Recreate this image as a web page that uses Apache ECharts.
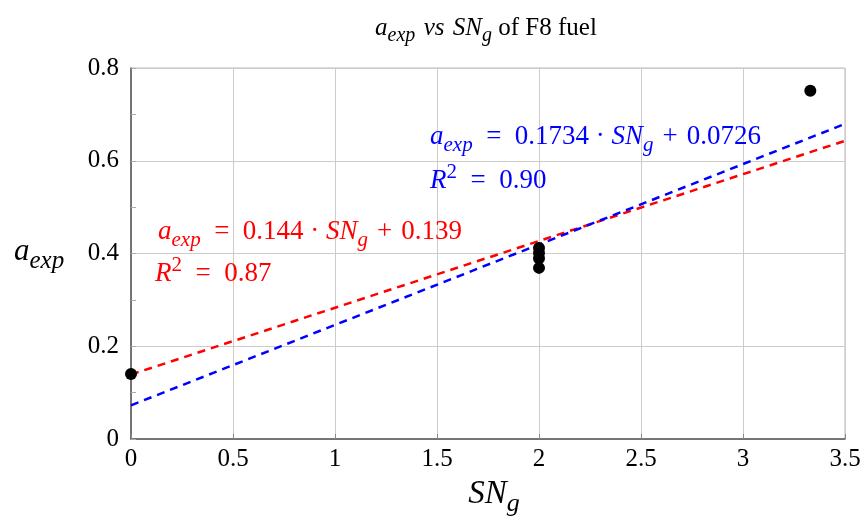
<!DOCTYPE html>
<html>
<head>
<meta charset="utf-8">
<script src="https://cdn.jsdelivr.net/npm/echarts@6/dist/echarts.min.js"></script>
<style>html,body{margin:0;padding:0;background:#fff;}#c{width:864px;height:521px;}</style>
</head>
<body>
<div id="c"></div>
<script>
const sng = [0, 2, 2, 2, 2, 3.33];
const aexp = [0.14, 0.412, 0.401, 0.390, 0.369, 0.751];
const fitRange = [0, 3.5];
const redFit = { slope: 0.144, intercept: 0.139 };
const blueFit = { slope: 0.1734, intercept: 0.0726 };
const xTicks = { min: 0, max: 3.5, interval: 0.5 };
const yTicks = { min: 0, max: 0.8, interval: 0.2 };
const yMinorInterval = 0.1;

const chart = echarts.init(document.getElementById('c'));
const F = 'Liberation Serif';
const SP = '\u2002';
const SP2 = '\u2004';
function fitLine(f) { return fitRange.map(x => [x, f.slope * x + f.intercept]); }
function richSet(color, size, subRatio) {
  const lh = Math.round(size * 1.4);
  const ss = Math.round(size * (subRatio || 0.78));
  return {
    i: { fontFamily: F, fontStyle: 'italic', fontSize: size, fill: color, lineHeight: lh },
    n: { fontFamily: F, fontSize: size, fill: color, lineHeight: lh },
    s: { fontFamily: F, fontStyle: 'italic', fontSize: ss, fill: color, lineHeight: Math.round(lh * 0.5), verticalAlign: 'bottom' },
    p: { fontFamily: F, fontSize: ss, fill: color, lineHeight: Math.round(lh * 0.5), verticalAlign: 'top' }
  };
}
function txt(x, y, text, color, size, align, subRatio) {
  return { type: 'text', x: x, y: y, z: 100,
    style: { text: text, fill: color, rich: richSet(color, size, subRatio), align: align || 'left', verticalAlign: 'middle' } };
}
const option = {
  animation: false,
  grid: { left: 131, right: 19, top: 68, bottom: 82, show: true, borderColor: '#bbb', borderWidth: 1 },
  xAxis: {
    type: 'value', min: xTicks.min, max: xTicks.max, interval: xTicks.interval,
    axisLine: { show: true, onZero: false, lineStyle: { color: '#555', width: 1.5 } },
    axisTick: { show: true, inside: true, length: 5, lineStyle: { color: '#888' } },
    splitLine: { show: true, lineStyle: { color: '#ccc', width: 1 } },
    axisLabel: { fontFamily: F, fontSize: 25, color: '#000', margin: 8 }
  },
  yAxis: [{
    type: 'value', min: yTicks.min, max: yTicks.max, interval: yTicks.interval,
    axisLine: { show: true, onZero: false, lineStyle: { color: '#555', width: 1.5 } },
    axisTick: { show: true, inside: true, length: 5, lineStyle: { color: '#888' } },
    splitLine: { show: true, lineStyle: { color: '#ccc', width: 1 } },
    axisLabel: { fontFamily: F, fontSize: 25, color: '#000', margin: 12 }
  }, {
    type: 'value', position: 'left', offset: 0, min: yTicks.min, max: yTicks.max, interval: yMinorInterval,
    axisLine: { show: false }, splitLine: { show: false }, axisLabel: { show: false },
    axisTick: { show: true, inside: true, length: 5, lineStyle: { color: '#aaa' } }
  }],
  series: [
    { type: 'line', data: fitLine(redFit), showSymbol: false, symbol: 'none', z: 3,
      lineStyle: { color: '#f00', width: 2.5, type: [8, 6] } },
    { type: 'line', data: fitLine(blueFit), showSymbol: false, symbol: 'none', z: 3,
      lineStyle: { color: '#00f', width: 2.5, type: [8, 6] } },
    { type: 'scatter', data: sng.map((x, k) => [x, aexp[k]]), symbol: 'circle', symbolSize: 12, z: 5,
      itemStyle: { color: '#000', opacity: 1 } }
  ],
  graphic: [
    txt(486, 28, '{i|a}{s|exp}{n|' + SP2 + '}{i|vs}{n|' + SP2 + '}{i|SN}{s|g}{n| of F8 fuel}', '#000', 25, 'center', 0.8),
    txt(14, 252, '{i|a}{s|exp}', '#000', 31, 'left', 0.8),
    txt(494, 494, '{i|SN}{s|g}', '#000', 33, 'center', 0.8),
    txt(158, 232, '{i|a}{s|exp}{n|' + SP + '=' + SP + '0.144 · }{i|SN}{s|g}{n|' + SP2 + '+' + SP2 + '0.139}', '#f00', 27, 'left'),
    txt(155, 274, '{i|R}{p|2}{n|' + SP + '=' + SP + '0.87}', '#f00', 27, 'left'),
    txt(430, 137, '{i|a}{s|exp}{n|' + SP + '=' + SP + '0.1734 · }{i|SN}{s|g}{n|' + SP2 + '+' + SP2 + '0.0726}', '#00f', 27, 'left'),
    txt(430, 181, '{i|R}{p|2}{n|' + SP + '=' + SP + '0.90}', '#00f', 27, 'left')
  ]
};
chart.setOption(option);
</script>
</body>
</html>
